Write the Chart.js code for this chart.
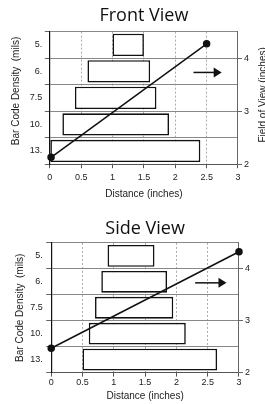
<!DOCTYPE html>
<html>
<head>
<meta charset="utf-8">
<script src="https://cdn.jsdelivr.net/npm/chart.js@4.4.1/dist/chart.umd.min.js"></script>
<style>
  html, body { margin: 0; padding: 0; background: #fff; width: 265px; height: 404px; overflow: hidden; }
  canvas { position: absolute; left: 0; }
  #front { top: 0; }
  #side { top: 200px; }
</style>
</head>
<body>
<canvas id="front" width="265" height="200"></canvas>
<canvas id="side" width="265" height="204"></canvas>
<script>
// bar code density rows (top to bottom)
const densities = ['5.', '6.', '7.5', '10.', '13.'];

// readable distance range (inches) per density
const frontRanges = [[1.0, 1.5], [0.6, 1.6], [0.4, 1.7], [0.2, 1.9], [0.0, 2.4]];
const sideRanges = [[0.9, 1.65], [0.8, 1.85], [0.7, 1.95], [0.6, 2.15], [0.5, 2.65]];

// field of view (inches) vs distance
const frontFov = [{ x: 0.02, y: 2.13 }, { x: 2.5, y: 4.27 }];
const sideFov = [{ x: 0, y: 2.47 }, { x: 3, y: 4.33 }];

// arrow marker pointing at the right axis: [x from, x to, fov level]
const frontArrow = [2.29, 2.74, 3.73];
const sideArrow = [2.3, 2.8, 3.73];

const fovTicks = [2, 3, 4];
const tickFont = { family: 'Liberation Sans, Arial, sans-serif', size: 9 };
const titleFont = { family: 'Liberation Sans, Arial, sans-serif', size: 10 };

function extrasPlugin(arrow, rightTitleX) {
  return {
    id: 'extras',
    afterDatasetsDraw(chart) {
      const ctx = chart.ctx;
      const x = chart.scales.x, y2 = chart.scales.y2;
      const x1 = x.getPixelForValue(arrow[0]);
      const x2 = x.getPixelForValue(arrow[1]);
      const yy = y2.getPixelForValue(arrow[2]);
      ctx.save();
      ctx.strokeStyle = '#111';
      ctx.fillStyle = '#111';
      ctx.lineWidth = 1.5;
      ctx.beginPath();
      ctx.moveTo(x1, yy);
      ctx.lineTo(x2 - 7, yy);
      ctx.stroke();
      ctx.beginPath();
      ctx.moveTo(x2, yy);
      ctx.lineTo(x2 - 8, yy - 5);
      ctx.lineTo(x2 - 8, yy + 5);
      ctx.closePath();
      ctx.fill();

      const area = chart.chartArea;
      ctx.translate(rightTitleX, (area.top + area.bottom) / 2 - 3);
      ctx.rotate(-Math.PI / 2);
      ctx.font = '10px Liberation Sans, Arial, sans-serif';
      ctx.fillStyle = '#222';
      ctx.textAlign = 'center';
      ctx.textBaseline = 'middle';
      ctx.fillText('Field of View (inches)', 0, 0);
      ctx.restore();
    }
  };
}

function makeChart(id, title, ranges, fov, arrow, lay) {
  return new Chart(document.getElementById(id), {
    type: 'bar',
    data: {
      labels: densities,
      datasets: [
        {
          type: 'line',
          data: fov,
          xAxisID: 'x',
          yAxisID: 'y2',
          indexAxis: 'x',
          borderColor: '#111',
          borderWidth: 1.5,
          pointRadius: 3,
          pointBackgroundColor: '#111',
          pointBorderColor: '#111',
          clip: false,
          order: 0
        },
        {
          data: ranges,
          xAxisID: 'x',
          yAxisID: 'y',
          backgroundColor: '#fff',
          borderColor: '#111',
          borderWidth: 1.6,
          borderSkipped: false,
          grouped: false,
          barPercentage: 0.84,
          categoryPercentage: 1,
          order: 1
        }
      ]
    },
    options: {
      indexAxis: 'y',
      responsive: false,
      animation: false,
      layout: { padding: lay.padding },
      plugins: {
        legend: { display: false },
        tooltip: { enabled: false },
        title: {
          display: true,
          fullSize: false,
          text: title,
          color: '#111',
          font: { family: 'Open Sans, Noto Sans, sans-serif', size: 18, weight: 500 },
          padding: lay.titlePad
        }
      },
      scales: {
        x: {
          type: 'linear',
          position: 'bottom',
          min: 0,
          max: 3,
          offset: false,
          ticks: { stepSize: 0.5, color: '#222', font: tickFont, padding: lay.xTickPad, maxRotation: 0,
                   callback: v => String(v) },
          grid: { color: '#aaa', tickLength: 4, tickColor: '#555', offset: false },
          border: { color: '#555', dash: [2, 2] },
          title: { display: true, text: 'Distance (inches)', color: '#222', font: titleFont, padding: lay.xTitlePad }
        },
        y: {
          type: 'category',
          position: 'left',
          offset: true,
          ticks: { color: '#222', font: tickFont, padding: lay.yTickPad },
          grid: { color: '#888', tickLength: 5, tickColor: '#666', offset: true },
          border: { color: '#111', width: 1.2 },
          title: { display: true, text: lay.yTitle, color: '#222', font: titleFont, padding: lay.yTitlePad }
        },
        y2: {
          type: 'linear',
          position: 'right',
          min: 2,
          max: 4.5,
          offset: false,
          afterBuildTicks(scale) { scale.ticks = fovTicks.map(v => ({ value: v })); },
          ticks: { color: '#222', font: tickFont, padding: 2 },
          grid: { drawOnChartArea: false, tickLength: 4, tickColor: '#666', offset: false },
          border: { color: '#666' }
        }
      }
    },
    plugins: [extrasPlugin(arrow, lay.rightTitleX)]
  });
}

makeChart('front', 'Front View', frontRanges, frontFov, frontArrow, {
  padding: { left: 10, right: 14, top: 0, bottom: 0 },
  titlePad: { top: 5, bottom: 5 },
  xTickPad: 4,
  xTitlePad: { top: 1, bottom: 0 },
  yTickPad: 2.5,
  yTitle: '     Bar Code Density  (mils)',
  yTitlePad: { top: 0, bottom: 5.3 },
  rightTitleX: 263
});

makeChart('side', 'Side View', sideRanges, sideFov, sideArrow, {
  padding: { left: 14.7, right: 13, top: 0, bottom: 2 },
  titlePad: { top: 18, bottom: 3.3 },
  xTickPad: 1,
  xTitlePad: { top: 0.6, bottom: 0 },
  yTickPad: 3.5,
  yTitle: 'Bar Code Density  (mils)',
  yTitlePad: { top: 0, bottom: 0 },
  rightTitleX: 271
});
</script>
</body>
</html>
